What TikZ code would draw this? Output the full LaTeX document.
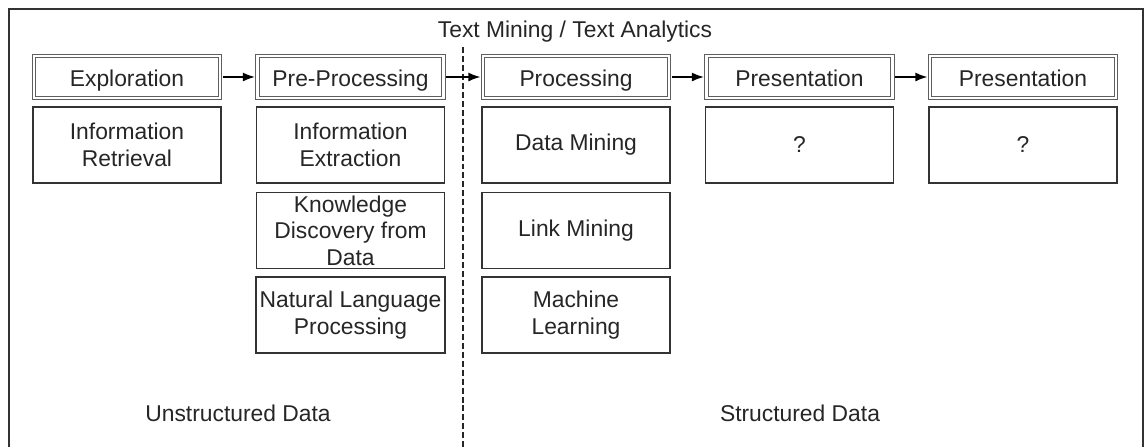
\documentclass[tikz,border=0pt]{standalone}
\usepackage{fontspec}
\setmainfont{Liberation Sans}
\usetikzlibrary{arrows.meta}
\definecolor{flowink}{HTML}{262626}
\definecolor{flowline}{HTML}{333333}
\definecolor{flowgray}{HTML}{5E5E5E}

\begin{document}
\begin{tikzpicture}[
  font=\fontsize{13}{15}\selectfont,
  stagebox/.style={draw=flowgray, double, double distance=1.3pt, line width=0.55pt,
    fill=white, text=flowink, minimum width=3.72cm, minimum height=0.84cm,
    text height=12.5pt, text depth=1.5pt, align=center},
  taskbox/.style={draw=flowline, line width=0.8pt, fill=white, text=flowink,
    minimum width=3.76cm, minimum height=1.52cm, align=center, inner sep=2pt},
  flow/.style={draw=black, line width=0.85pt, -{Latex[length=2.4mm,width=1.8mm]},
    shorten >=1.2pt, shorten <=1.2pt},
  ptitle/.style={text=flowink},
  note/.style={text=flowink},
]
\useasboundingbox (0,0) rectangle (22.92,-8.94);

% ===== frame and header =====
\draw[flowline, line width=0.8pt] (0.18,-8.94) -- (0.18,-0.18) -- (22.86,-0.18) -- (22.86,-8.94);
\node[ptitle] (title) at (11.5,-0.64) {Text Mining / Text Analytics};

% ===== divider =====
\draw[flowink, line width=0.6pt, dash pattern=on 3.4pt off 1.7pt] (9.26,-0.94) -- (9.26,-8.94);

% ===== stages =====
\node[stagebox] (explore) at (2.54,-1.54) {Exploration};
\node[stagebox] (preproc) at (7.01,-1.54) {Pre-Processing};
\node[stagebox] (proc)    at (11.52,-1.54) {Processing};
\node[stagebox] (present) at (15.99,-1.54) {Presentation};
\node[stagebox] (presenttwo) at (20.46,-1.54) {Presentation};

\draw[flow] (explore) -- (preproc);
\draw[flow] (preproc) -- (proc);
\draw[flow] (proc) -- (present);
\draw[flow] (present) -- (presenttwo);

% ===== tasks under each stage =====
\node[taskbox] (retrieval) at (2.54,-2.9) {Information\\Retrieval};

\node[taskbox] (extract) at (7.01,-2.9) {Information\\Extraction};
\node[taskbox] (kdd)     at (7.01,-4.61) {Knowledge\\Discovery from\\Data};
\node[taskbox] (nlp)     at (7.01,-6.3) {Natural Language\\Processing};

\node[taskbox] (datamining) at (11.52,-2.9) {Data Mining};
\node[taskbox] (linkmining) at (11.52,-4.61) {Link Mining};
\node[taskbox] (ml)         at (11.52,-6.3) {Machine\\Learning};

\node[taskbox] (unknown)    at (15.99,-2.9) {?};
\node[taskbox] (unknowntwo) at (20.46,-2.9) {?};

% ===== data kinds =====
\node[note] (unstructured) at (4.76,-8.26) {Unstructured Data};
\node[note] (structured)   at (16.0,-8.26) {Structured Data};

\end{tikzpicture}
\end{document}
